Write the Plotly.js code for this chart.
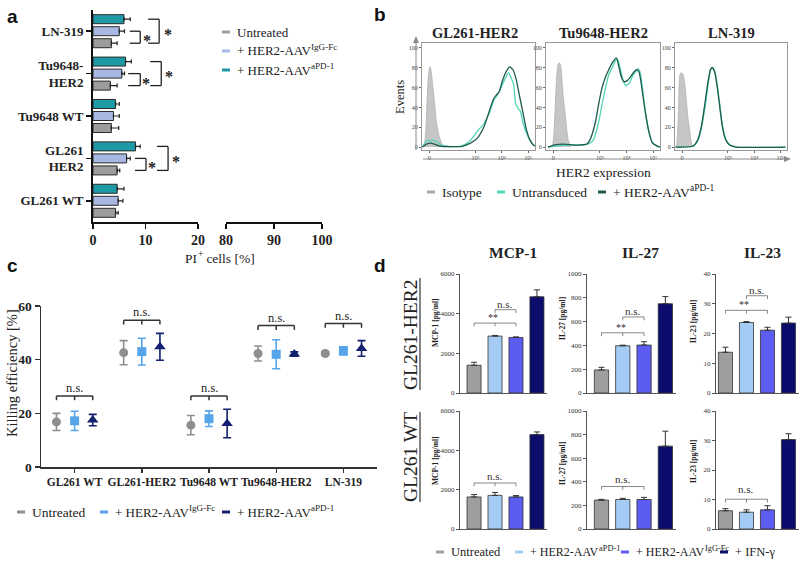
<!DOCTYPE html>
<html>
<head>
<meta charset="utf-8">
<script src="https://cdn.plot.ly/plotly-3.0.1.min.js"></script>
<style>
html,body{margin:0;padding:0;background:#fff;}
#chart{width:800px;height:562px;}
</style>
</head>
<body>
<div id="chart"></div>
<script>
// ================= DATA =================
// ---- Panel a: PI+ cells [%] ----
const aCategories   = ["GL261 WT","GL261 HER2","Tu9648 WT","Tu9648-HER2","LN-319"];
const aTickLabels   = ["GL261 WT","GL261<br>HER2","Tu9648 WT","Tu9648-<br>HER2","LN-319"];
const aUntreated    = [4.3, 4.6, 3.5, 3.3, 3.5];
const aUntreatedErr = [0.5, 0.5, 1.4, 1.3, 1.1];
const aIgGFc        = [4.8, 6.4, 3.9, 5.5, 5.0];
const aIgGFcErr     = [0.9, 0.7, 1.1, 0.5, 1.0];
const aPD1          = [4.6, 8.1, 4.3, 6.2, 5.9];
const aPD1Err       = [1.3, 0.9, 0.7, 1.1, 1.2];
const aTicksLow     = [0, 10, 20];
const aTicksHigh    = [80, 90, 100];

// ---- Panel b: HER2 expression histograms (x in display decades, y = events scale) ----
const bTitles    = ["GL261-HER2","Tu9648-HER2","LN-319"];
const bXTickVals = [0, 1.75, 2.75, 3.75];
const bXTickText = ["0","10³","10⁴","10⁵"];
const bYTicks    = [0, 20, 40, 60, 80, 100];

const bGLIsoX = [-0.23,-0.17,-0.12,-0.08,-0.04,0.0,0.04,0.08,0.12,0.15,0.22,0.28,0.38,0.47,0.54,0.6];
const bGLIsoY = [0,4,20,45,68,78,81,76,66,58,40,24,11,4,1,0];
const bGLUntX = [-0.25,-0.15,-0.05,0.05,0.15,0.3,0.45,0.6,0.9,1.2,1.44,1.63,1.82,2.08,2.27,2.46,2.59,2.72,2.85,2.95,3.0,3.1,3.19,3.27,3.36,3.45,3.55,3.68,3.81,3.94,4.0];
const bGLUntY = [0,5,7,6,7,5,2,1,0.5,1,4,9,16,24,34,48,53,60,68,73,75,70,63,44,39,36,24,14,7,2,1];
const bGLPdX  = [-0.25,-0.1,0.05,0.2,0.4,0.7,1.2,1.56,1.82,2.08,2.33,2.46,2.56,2.65,2.78,2.91,3.04,3.17,3.29,3.42,3.55,3.68,3.81,3.94,4.0];
const bGLPdY  = [0,3,4,3,1,0.5,0.5,4,9,21,41,50,53,56,68,76,81,78,68,51,34,17,7,2,1];

const bTuIsoX = [-0.02,0.03,0.08,0.13,0.18,0.23,0.28,0.33,0.38,0.45,0.51,0.57,0.66];
const bTuIsoY = [0,15,43,71,83,85,82,67,50,33,17,6,0];
const bTuUntX = [-0.2,0.13,0.64,1.14,1.39,1.52,1.70,1.83,1.96,2.08,2.21,2.33,2.42,2.52,2.62,2.71,2.84,2.96,3.09,3.18,3.25,3.34,3.43,3.53,3.65,3.81,3.97];
const bTuUntY = [0,1,2,2,4,8,25,43,60,73,80,87,88,78,67,62,64,71,76,79,76,60,40,22,8,2,0];
const bTuPdX  = [-0.2,0.01,0.38,0.89,1.26,1.39,1.58,1.70,1.83,1.96,2.08,2.21,2.37,2.46,2.55,2.65,2.77,2.90,3.03,3.13,3.21,3.28,3.37,3.47,3.59,3.72,3.91,4.0];
const bTuPdY  = [0,2,3,2,3,8,25,43,60,71,78,85,90,81,71,66,67,71,76,78,76,67,50,32,15,4,1,0];

const bLNIsoX = [-0.24,-0.21,-0.14,-0.08,-0.02,0.04,0.11,0.17,0.23,0.30,0.36,0.42];
const bLNIsoY = [0,1,32,73,75,73,62,45,28,15,4,0];
const bLNUntX = [-0.25,0.45,0.64,0.76,0.89,1.01,1.10,1.18,1.26,1.35,1.45,1.55,1.68,1.83,2.08,3.94];
const bLNUntY = [0,1,8.5,22,43,66,79,80,75,61,40,20,7,2,0,0];
const bLNPdX  = [-0.25,0.42,0.61,0.74,0.86,0.99,1.08,1.15,1.24,1.33,1.43,1.53,1.65,1.81,2.06,3.94];
const bLNPdY  = [0,1,8,21.5,42,66,78,80,76,62.5,42,21.5,8,2,0,0];

// ---- Panel c: Killing efficiency [%] ----
const cCategories   = ["GL261 WT","GL261-HER2","Tu9648 WT","Tu9648-HER2","LN-319"];
const cUntreated    = [16.8, 42.6, 15.6, 42.3, 42.3];
const cUntreatedErr = [3.2, 4.5, 3.6, 2.8, 0.6];
const cIgGFc        = [17.2, 43.0, 18.0, 42.0, 43.3];
const cIgGFcErr     = [3.6, 5.0, 2.9, 5.4, 1.5];
const cPD1          = [17.5, 44.8, 16.2, 42.1, 44.2];
const cPD1Err       = [2.1, 5.0, 5.3, 0.8, 2.9];
const cSigY         = [26.5, 54.7, 26.5, 52.7, 53.5];
const cYTicks       = [0, 20, 40, 60];

// ---- Panel d: cytokines [pg/ml] ----
const dConditions  = ["Untreated","+ HER2-AAV aPD-1","+ HER2-AAV IgG-Fc","+ IFN-γ"];
const dHer2MCP1    = [1400, 2870, 2800, 4850];
const dHer2MCP1Err = [150, 30, 30, 350];
const dHer2IL27    = [194, 397, 403, 750];
const dHer2IL27Err = [22, 5, 28, 60];
const dHer2IL23    = [13.7, 23.7, 21.1, 23.5];
const dHer2IL23Err = [1.7, 0.3, 1.0, 2.0];
const dWtMCP1      = [1630, 1710, 1630, 4800];
const dWtMCP1Err   = [120, 150, 70, 135];
const dWtIL27      = [245, 250, 250, 702];
const dWtIL27Err   = [6, 10, 18, 127];
const dWtIL23      = [6.2, 5.7, 6.5, 30.3];
const dWtIL23Err   = [0.7, 0.8, 1.4, 2.0];

// ================= HELPERS =================
const W = 800, H = 562;
const px = v => v / W, py = v => 1 - v / H;
const hd = (a, b) => [a / W, b / W];
const vd = (t, b) => [1 - b / H, 1 - t / H];
const SERIF = '"Liberation Serif", "DejaVu Serif", serif';
const SANS = '"Liberation Sans", Arial, sans-serif';
const zeros = arr => arr.map(() => 0);
const mctx = document.createElement("canvas").getContext("2d");
function textW(t, size, weight) {
  mctx.font = (weight || "normal") + " " + size + "px " + SERIF;
  return mctx.measureText(t).width;
}

const traces = [];
const annotations = [];
const shapes = [];
const layout = {
  width: W, height: H, margin: {l:0, r:0, t:0, b:0},
  showlegend: false, paper_bgcolor: "#fff", plot_bgcolor: "rgba(0,0,0,0)",
  font: {family: SERIF, color: "#222"},
  barmode: "group", bargap: 0.15, bargroupgap: 0.25,
  annotations, shapes
};

function note(x, y, text, size, opts) {
  const o = Object.assign({xref:"paper", yref:"paper", x:px(x), y:py(y), text:text, showarrow:false,
    xanchor:"center", yanchor:"middle", font:{family:SERIF, size:size, color:"#222"}}, opts || {});
  if (opts && opts.weight) { o.font.weight = opts.weight; delete o.weight; }
  if (opts && opts.family) { o.font.family = opts.family; delete o.family; }
  if (opts && opts.color) { o.font.color = opts.color; delete o.color; }
  annotations.push(o);
}
// text with an optional raised (superscript) part, drawn left-anchored at x
function richLeft(x, y, main, sup, size, tail) {
  note(x, y, main, size, {xanchor:"left"});
  let w = textW(main, size);
  if (sup) {
    const s = size * 0.7;
    note(x + w + 0.5, y - size * 0.33, sup, s, {xanchor:"left"});
    w += textW(sup, s) + 0.5;
  }
  if (tail) note(x + w, y, tail, size, {xanchor:"left"});
}
function pline(x0, y0, x1, y1, color, width) {
  shapes.push({type:"line", xref:"paper", yref:"paper", x0:px(x0), y0:py(y0), x1:px(x1), y1:py(y1), line:{color:color, width:width}});
}
function ppath(pts, color) {
  const d = pts.map((p, i) => (i ? "L" : "M") + px(p[0]) + "," + py(p[1])).join(" ") + " Z";
  shapes.push({type:"path", xref:"paper", yref:"paper", path:d, fillcolor:color, line:{width:0}});
}
function dline(xr, yr, x0, y0, x1, y1, color, width) {
  shapes.push({type:"line", xref:xr, yref:yr, x0:x0, y0:y0, x1:x1, y1:y1, line:{color:color, width:width}});
}
function legendItem(x, y, color, text, sup, size) {
  shapes.push({type:"rect", xref:"paper", yref:"paper", x0:px(x), x1:px(x+8), y0:py(y+1.5), y1:py(y-1.5), line:{width:0}, fillcolor:color});
  richLeft(x + 13, y, text, sup, size);
}

// Panel letters
note(12, 16, "a", 19, {weight:"bold", family:SANS, color:"#111"});
note(380, 15, "b", 19, {weight:"bold", family:SANS, color:"#111"});
note(12, 265, "c", 19, {weight:"bold", family:SANS, color:"#111"});
note(380, 265, "d", 19, {weight:"bold", family:SANS, color:"#111"});

// ================= PANEL a =================
const aCol = {u:"#9c9c9c", igg:"#a9b8e3", pd1:"#1e9aa6"};
function aBar(vals, errs, color, name) {
  return {type:"bar", orientation:"h", name:name, y:aCategories, x:vals, xaxis:"x", yaxis:"y",
    marker:{color:color, line:{color:"#2a2a2a", width:1}},
    error_x:{type:"data", array:errs, arrayminus:zeros(errs), symmetric:false, color:"#222", thickness:1.2, width:2},
    hoverinfo:"skip"};
}
traces.push(aBar(aUntreated, aUntreatedErr, aCol.u, "Untreated"));
traces.push(aBar(aIgGFc, aIgGFcErr, aCol.igg, "+ HER2-AAV IgG-Fc"));
traces.push(aBar(aPD1, aPD1Err, aCol.pd1, "+ HER2-AAV aPD-1"));
traces.push({type:"scatter", mode:"markers", x:[], y:[], xaxis:"x2", yaxis:"y", hoverinfo:"skip"});

const aXStyle = {showline:true, linecolor:"#111", linewidth:1.6, ticks:"outside", ticklen:5, tickwidth:1.6, tickcolor:"#111",
  showgrid:false, zeroline:false, tickfont:{family:SERIF, size:14, weight:"bold", color:"#222"}, anchor:"y", fixedrange:true};
layout.xaxis  = Object.assign({}, aXStyle, {domain:hd(93,198), range:[0,20], tickvals:aTicksLow});
layout.xaxis2 = Object.assign({}, aXStyle, {domain:hd(226,322), range:[80,100], tickvals:aTicksHigh});
layout.yaxis = {domain:vd(10,222), type:"category", categoryorder:"array", categoryarray:aCategories,
  range:[-0.5,4.5], tickvals:aCategories, ticktext:aTickLabels, showline:true, linecolor:"#111", linewidth:2,
  ticks:"outside", ticklen:5, tickwidth:1.6, tickcolor:"#111", showgrid:false, zeroline:false,
  tickfont:{family:SERIF, size:13, weight:"bold", color:"#222"}, anchor:"x", fixedrange:true};
{
  const fs = 13.5, tot = textW("PI", fs) + textW("+", fs * 0.7) + 0.5 + textW(" cells [%]", fs);
  richLeft(218 - tot / 2, 258, "PI", "+", fs, " cells [%]");
}

// significance brackets panel a
const slot = 0.85 / 3;
const aSig = [
  {i:4, inner:[7.0,9.0,10.3], outer:[10.5,12.6,14.3]},
  {i:3, inner:[6.7,9.0,10.1], outer:[10.9,13.0,14.5]},
  {i:1, inner:[8.0,10.1,11.2], outer:[12.2,14.3,15.8]}
];
aSig.forEach(s => {
  const yG = s.i - slot, yL = s.i, yT = s.i + slot;
  [[s.inner, yL], [s.outer, yT]].forEach(([b, yTop]) => {
    dline("x","y", b[0], yTop, b[1], yTop, "#222", 1.3);
    dline("x","y", b[0], yG, b[1], yG, "#222", 1.3);
    dline("x","y", b[1], yTop, b[1], yG, "#222", 1.3);
    annotations.push({xref:"x", yref:"y", x:b[2], y:(yTop+yG)/2 - 0.08, text:"*", showarrow:false,
      font:{family:SERIF, size:16, weight:"bold", color:"#222"}});
  });
});
legendItem(222, 32, aCol.u, "Untreated", "", 13);
legendItem(222, 51, aCol.igg, "+ HER2-AAV", "IgG-Fc", 13);
legendItem(222, 70, aCol.pd1, "+ HER2-AAV", "aPD-1", 13);

// ================= PANEL b =================
const bCol = {iso:"#c6c6c6", isoLine:"#b0b0b0", unt:"#52d4b4", pd:"#1d5b4e"};
const bData = [
  [bGLIsoX,bGLIsoY,bGLUntX,bGLUntY,bGLPdX,bGLPdY],
  [bTuIsoX,bTuIsoY,bTuUntX,bTuUntY,bTuPdX,bTuPdY],
  [bLNIsoX,bLNIsoY,bLNUntX,bLNUntY,bLNPdX,bLNPdY]
];
const bDom = [[422,535],[546,660],[675,787]];
bData.forEach((d, k) => {
  const n = 3 + k, xa = "x" + n, ya = "y" + n;
  traces.push({type:"scatter", mode:"lines", x:d[0], y:d[1], xaxis:xa, yaxis:ya, fill:"tozeroy",
    fillcolor:bCol.iso, line:{color:bCol.isoLine, width:0.8, shape:"spline", smoothing:0.6}, hoverinfo:"skip"});
  traces.push({type:"scatter", mode:"lines", x:d[2], y:d[3], xaxis:xa, yaxis:ya,
    line:{color:bCol.unt, width:1.3, shape:"spline", smoothing:0.6}, hoverinfo:"skip"});
  traces.push({type:"scatter", mode:"lines", x:d[4], y:d[5], xaxis:xa, yaxis:ya,
    line:{color:bCol.pd, width:1.3, shape:"spline", smoothing:0.6}, hoverinfo:"skip"});
  layout["xaxis" + n] = {domain:hd(bDom[k][0], bDom[k][1]), range:[-0.27,4.0], anchor:ya,
    tickvals:bXTickVals, ticktext:bXTickText, ticks:"outside", ticklen:2, tickcolor:"#666",
    tickfont:{family:SERIF, size:6, color:"#444"}, showline:true, mirror:true, linecolor:"#9a9a9a", linewidth:1,
    showgrid:false, zeroline:false, fixedrange:true};
  layout["yaxis" + n] = {domain:vd(43,150), range:[-3,105], anchor:xa, tickvals:bYTicks,
    ticks:"outside", ticklen:2, tickcolor:"#666", tickfont:{family:SERIF, size:6, color:"#444"},
    showline:true, mirror:true, linecolor:"#9a9a9a", linewidth:1, showgrid:false, zeroline:false, fixedrange:true};
  note((bDom[k][0] + bDom[k][1]) / 2 + (k === 0 ? -4 : 0), 33, bTitles[k], 14.5, {weight:"bold"});
});
// axis arrows (lines + arrowheads)
pline(416, 150, 416, 42, "#8a8a8a", 1);
ppath([[416, 36], [413, 43], [419, 43]], "#8a8a8a");
pline(423, 159, 785, 159, "#8a8a8a", 1);
ppath([[791, 159], [784, 156], [784, 162]], "#8a8a8a");
note(400, 97, "Events", 12.5, {textangle:-90});
note(603, 172, "HER2 expression", 13.5);
legendItem(427, 192, "#a8a8a8", "Isotype", "", 13.5);
legendItem(497, 192, bCol.unt, "Untransduced", "", 13.5);
legendItem(598, 192, bCol.pd, "+ HER2-AAV", "aPD-1", 13.5);

// ================= PANEL c =================
const cCol = {u:"#8e8e8e", igg:"#56a5ea", pd1:"#13206f"};
const cOffsets = [-0.27, 0, 0.27];
function cTrace(vals, errs, k, symbol, color, size) {
  return {type:"scatter", mode:"markers", x:cCategories.map((_, i) => i + cOffsets[k]), y:vals,
    xaxis:"x6", yaxis:"y6", marker:{symbol:symbol, color:color, size:size},
    error_y:{type:"data", array:errs, color:color, thickness:1.6, width:4}, hoverinfo:"skip"};
}
traces.push(cTrace(cUntreated, cUntreatedErr, 0, "circle", cCol.u, 9));
traces.push(cTrace(cIgGFc, cIgGFcErr, 1, "square", cCol.igg, 9));
traces.push(cTrace(cPD1, cPD1Err, 2, "triangle-up", cCol.pd1, 10));
layout.xaxis6 = {domain:hd(41,377), range:[-0.5,4.5], anchor:"y6", tickvals:cCategories.map((_, i) => i),
  ticktext:cCategories, tickangle:0, ticks:"outside", ticklen:4, tickwidth:1.4, tickcolor:"#333", showline:true, linecolor:"#333",
  linewidth:1.5, showgrid:false, zeroline:false, tickfont:{family:SERIF, size:11.5, weight:"bold", color:"#222"}, fixedrange:true};
layout.yaxis6 = {domain:vd(306,467), range:[0,60], anchor:"x6", tickvals:cYTicks, ticks:"outside", ticklen:5,
  tickwidth:1.4, tickcolor:"#333", showline:true, linecolor:"#333", linewidth:1.5, showgrid:false, zeroline:false,
  tickfont:{family:SERIF, size:13.5, weight:"bold", color:"#222"}, fixedrange:true};
note(12, 373, "Killing efficiency [%]", 14.5, {textangle:-90});
cSigY.forEach((y, i) => {
  const c = "#333", w = 1.5, t = 1.6;
  dline("x6","y6", i - 0.27, y, i + 0.27, y, c, w);
  dline("x6","y6", i - 0.27, y, i - 0.27, y - t, c, w);
  dline("x6","y6", i + 0.27, y, i + 0.27, y - t, c, w);
  dline("x6","y6", i, y, i, y - t, c, w);
  annotations.push({xref:"x6", yref:"y6", x:i, y:y + 2.9, text:"n.s.", showarrow:false,
    font:{family:SERIF, size:12.5, color:"#222"}});
});
legendItem(17, 512, cCol.u, "Untreated", "", 13.5);
legendItem(100, 512, cCol.igg, "+ HER2-AAV", "IgG-Fc", 13);
legendItem(222, 512, cCol.pd1, "+ HER2-AAV", "aPD-1", 13);

// ================= PANEL d =================
const dColors = ["#9e9e9e", "#a4cbf3", "#5c5cf0", "#0c0c6c"];
const dCols = [
  {name:"MCP-1", ytitle:"MCP-1 [pg/ml]", range:[0,6000], dtick:2000, dom:[460,547], xr:[-0.67,3.48], tx:435,
   her2:[dHer2MCP1, dHer2MCP1Err], wt:[dWtMCP1, dWtMCP1Err],
   her2Sig:[{a:0,b:2,m:1,y:3525,label:"**",ly:3800,lx:0.9},{a:1,b:2,y:4200,label:"n.s.",ly:4500,lx:1.5}],
   wtSig:[{a:0,b:2,m:1,y:2340,label:"n.s.",ly:2720,lx:1}]},
  {name:"IL-27", ytitle:"IL-27 [pg/ml]", range:[0,1000], dtick:200, dom:[587,676], xr:[-0.68,3.5], tx:562,
   her2:[dHer2IL27, dHer2IL27Err], wt:[dWtIL27, dWtIL27Err],
   her2Sig:[{a:0,b:2,m:1,y:506,label:"**",ly:550,lx:0.9},{a:1,b:2,y:639,label:"n.s.",ly:685,lx:1.5}],
   wtSig:[{a:0,b:2,m:1,y:360,label:"n.s.",ly:420,lx:1}]},
  {name:"IL-23", ytitle:"IL-23 [pg/ml]", range:[0,40], dtick:10, dom:[716,799], xr:[-0.45,3.5], tx:693,
   her2:[dHer2IL23, dHer2IL23Err], wt:[dWtIL23, dWtIL23Err],
   her2Sig:[{a:0,b:2,m:1,y:27.8,label:"**",ly:29.6,lx:0.9},{a:1,b:2,y:32.7,label:"n.s.",ly:34.7,lx:1.5}],
   wtSig:[{a:0,b:2,m:1,y:10.1,label:"n.s.",ly:13.4,lx:1}]}
];
const dRows = [{key:"her2", top:274, bottom:393, sig:"her2Sig", tcy:[322,319,322]},
               {key:"wt", top:411, bottom:529, sig:"wtSig", tcy:[460,464,462]}];
let axn = 7;
dRows.forEach(row => {
  dCols.forEach((col, ci) => {
    const n = axn++, xa = "x" + n, ya = "y" + n;
    const vals = col[row.key][0], errs = col[row.key][1];
    traces.push({type:"bar", x:dConditions, y:vals, xaxis:xa, yaxis:ya, width:0.67,
      marker:{color:dColors, line:{color:"#333", width:0.8}},
      error_y:{type:"data", array:errs, arrayminus:zeros(errs), symmetric:false, color:"#333", thickness:1, width:3},
      hoverinfo:"skip"});
    layout["xaxis" + n] = {domain:hd(col.dom[0], col.dom[1]), type:"category", categoryorder:"array",
      categoryarray:dConditions, range:col.xr, anchor:ya, showticklabels:false, ticks:"", showline:true,
      linecolor:"#555", linewidth:1, showgrid:false, zeroline:false, fixedrange:true};
    layout["yaxis" + n] = {domain:vd(row.top, row.bottom), range:col.range, dtick:col.dtick, tick0:0, anchor:xa,
      ticks:"outside", ticklen:3, tickcolor:"#555", showline:true, linecolor:"#555", linewidth:1,
      showgrid:false, zeroline:false, tickfont:{family:SERIF, size:7, color:"#333"}, fixedrange:true};
    note(col.tx, row.tcy[ci], col.ytitle, 7.5, {textangle:-90, weight:"bold"});
    const tl = (col.range[1] - col.range[0]) * 0.028;
    col[row.sig].forEach(s => {
      const c = "#6a6a6a", w = 0.8;
      dline(xa, ya, s.a, s.y, s.b, s.y, c, w);
      dline(xa, ya, s.a, s.y, s.a, s.y - tl, c, w);
      dline(xa, ya, s.b, s.y, s.b, s.y - tl, c, w);
      if (s.m !== undefined) dline(xa, ya, s.m, s.y, s.m, s.y - tl, c, w);
      annotations.push({xref:xa, yref:ya, x:s.lx, y:s.ly, text:s.label, showarrow:false,
        font:{family:SERIF, size:s.label === "**" ? 10 : 11, color:"#333"}});
    });
  });
});
note(513, 253, "MCP-1", 15.5, {weight:"bold"});
note(640, 253, "IL-27", 15.5, {weight:"bold"});
note(762, 253, "IL-23", 15.5, {weight:"bold"});
note(410, 334, "GL261-HER2", 19.5, {textangle:-90});
note(410, 457, "GL261 WT", 19.5, {textangle:-90});
pline(420, 278, 420, 390, "#333", 1.2);
pline(420, 412, 420, 502, "#333", 1.2);
legendItem(436, 552, dColors[0], "Untreated", "", 12.5);
legendItem(515, 552, dColors[1], "+ HER2-AAV", "aPD-1", 12);
legendItem(621, 552, dColors[2], "+ HER2-AAV", "IgG-Fc", 12);
legendItem(720, 552, dColors[3], "+ IFN-γ", "", 12.5);

Plotly.newPlot("chart", traces, layout, {staticPlot:true, displayModeBar:false});
</script>
</body>
</html>
